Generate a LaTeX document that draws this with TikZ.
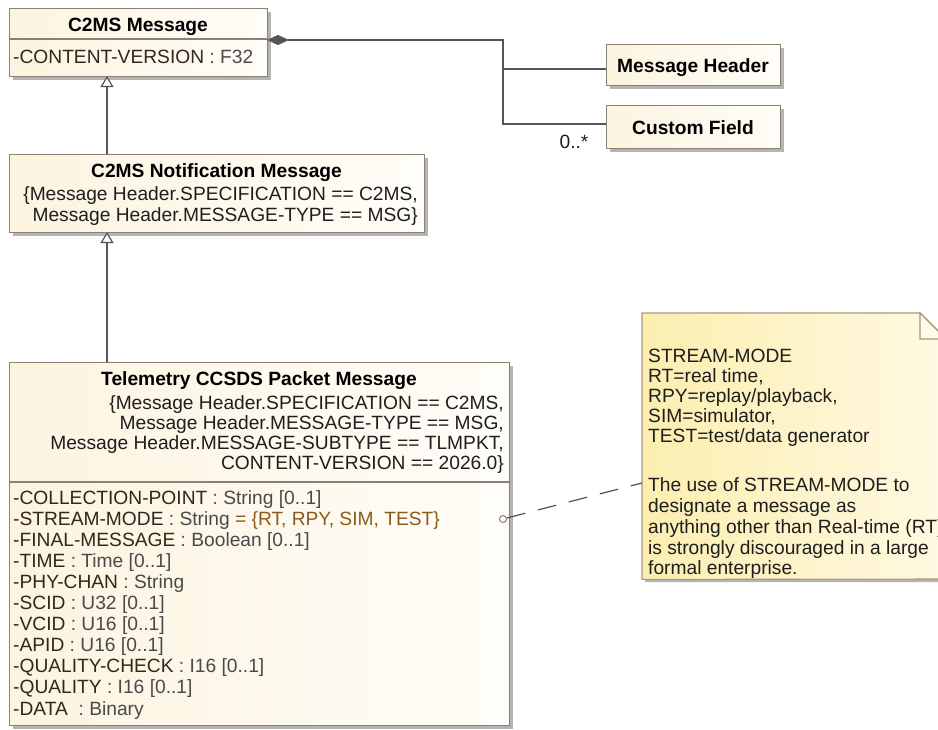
\documentclass[tikz,border=0pt]{standalone}
\usepackage{fontspec}
\setmainfont{Liberation Sans}
\usetikzlibrary{arrows.meta,shadows}
\definecolor{boxborder}{HTML}{8C7F73}
\definecolor{boxA}{HTML}{FCF4E0}
\definecolor{boxB}{HTML}{FFFDF8}
\definecolor{noteA}{HTML}{FCEEB0}
\definecolor{noteB}{HTML}{FFF9E2}
\definecolor{notefold}{HTML}{FFFBEA}
\definecolor{noteborder}{HTML}{A89A78}
\definecolor{shadowc}{HTML}{B4B4B4}
\definecolor{linec}{HTML}{555555}
\definecolor{namec}{HTML}{33261B}
\definecolor{typec}{HTML}{4A4A4A}
\definecolor{defc}{HTML}{8C5A1E}
\definecolor{txtc}{HTML}{1E1E1E}
\newcommand\attrname[1]{\textcolor{namec}{#1}}
\newcommand\attrtype[1]{\textcolor{typec}{#1}}
\newcommand\attrdef[1]{\textcolor{defc}{#1}}
\begin{document}
\begin{tikzpicture}[x=1pt,y=-1pt,
  every node/.style={font=\fontsize{19.2}{21}\selectfont, inner sep=0pt},
  umlbox/.style={draw=boxborder, line width=1.1pt, left color=boxA, right color=boxB,
    anchor=north west, inner sep=0pt,
    drop shadow={shadow xshift=3pt,shadow yshift=-3pt,fill=shadowc,opacity=1}},
  ttl/.style={anchor=base, font=\fontsize{19.2}{21}\selectfont\bfseries, text=black},
  ctxt/.style={anchor=base east, text=txtc},
  attr/.style={anchor=base west},
  ntxt/.style={anchor=base west, text=txtc},
  sepline/.style={draw=boxborder, line width=1.1pt},
  assoc/.style={draw=linec, line width=1.2pt},
  genline/.style={draw=linec, line width=1.2pt, -{Triangle[open,length=11pt,width=13pt,fill=white]}},
  dashline/.style={draw=linec, line width=1.2pt, dash pattern=on 19pt off 13pt}
]
\clip (0,0) rectangle (938,729);
\fill[white] (0,0) rectangle (938,729);

% ---- boxes
\node[umlbox, minimum width=258pt, minimum height=68pt] (c2ms) at (9,8) {};
\node[umlbox, minimum width=174pt, minimum height=41pt] (mh) at (606,44) {};
\node[umlbox, minimum width=174pt, minimum height=43pt] (cf) at (606,105) {};
\node[umlbox, minimum width=415pt, minimum height=78pt] (notif) at (9,154) {};
\node[umlbox, minimum width=500pt, minimum height=363pt] (tlm) at (9,362) {};

\draw[sepline] (9,39) -- (267,39);
\draw[sepline] (9,482) -- (509,482);

% ---- note
\node[minimum width=308pt, minimum height=266pt, anchor=north west] (note) at (642,313) {};
\fill[shadowc] (645,316) -- (923,316) -- (949,342) -- (949,582) -- (645,582) -- cycle;
\draw[draw=noteborder, line width=1.1pt, left color=noteA, right color=noteB]
  (note.north west) -- (920,313) -- (946,339) -- (946,579) -- (note.south west) -- cycle;
\draw[draw=noteborder, line width=1.1pt, fill=notefold] (920,313) -- (920,339) -- (946,339) -- cycle;

% ---- texts
\node[ttl] (t1) at (138,31) {C2MS Message};
\node[attr] (t2) at (13,63) {\attrname{-CONTENT-VERSION} \attrtype{: F32}};
\node[ttl] (t3) at (693,72) {Message Header};
\node[ttl] (t4) at (693,134) {Custom Field};
\node[text=txtc] (mult) at (574,142) {0..*};

\node[ttl] (t5) at (216.5,177) {C2MS Notification Message};
\node[ctxt] (t6) at (418,200) {\{Message Header.SPECIFICATION == C2MS,};
\node[ctxt] (t7) at (418,221) {Message Header.MESSAGE-TYPE == MSG\}};

\node[ttl] (t8) at (259,385) {Telemetry CCSDS Packet Message};
\node[ctxt] (t9) at (504,409) {\{Message Header.SPECIFICATION == C2MS,};
\node[ctxt] (t10) at (504,429) {Message Header.MESSAGE-TYPE == MSG,};
\node[ctxt] (t11) at (504,449) {Message Header.MESSAGE-SUBTYPE == TLMPKT,};
\node[ctxt] (t12) at (504,469) {CONTENT-VERSION == 2026.0\}};

\node[attr] (a1) at (13,504) {\attrname{-COLLECTION-POINT} \attrtype{: String [0..1]}};
\node[attr] (a2) at (13,525.1) {\attrname{-STREAM-MODE} \attrtype{: String} \attrdef{= \{RT, RPY, SIM, TEST\}}};
\node[attr] (a3) at (13,546.2) {\attrname{-FINAL-MESSAGE} \attrtype{: Boolean [0..1]}};
\node[attr] (a4) at (13,567.3) {\attrname{-TIME} \attrtype{: Time [0..1]}};
\node[attr] (a5) at (13,588.4) {\attrname{-PHY-CHAN} \attrtype{: String}};
\node[attr] (a6) at (13,609.5) {\attrname{-SCID} \attrtype{: U32 [0..1]}};
\node[attr] (a7) at (13,630.6) {\attrname{-VCID} \attrtype{: U16 [0..1]}};
\node[attr] (a8) at (13,651.7) {\attrname{-APID} \attrtype{: U16 [0..1]}};
\node[attr] (a9) at (13,672.8) {\attrname{-QUALITY-CHECK} \attrtype{: I16 [0..1]}};
\node[attr] (a10) at (13,693.9) {\attrname{-QUALITY} \attrtype{: I16 [0..1]}};
\node[attr] (a11) at (13,715) {\attrname{-DATA} \attrtype{\ : Binary}};

\node[ntxt] (n1) at (648,362) {STREAM-MODE};
\node[ntxt] (n2) at (648,382) {RT=real time,};
\node[ntxt] (n3) at (648,402) {RPY=replay/playback,};
\node[ntxt] (n4) at (648,422) {SIM=simulator,};
\node[ntxt] (n5) at (648,442) {TEST=test/data generator};
\node[ntxt] (n6) at (648,491) {The use of STREAM-MODE to};
\node[ntxt] (n7) at (648,512) {designate a message as};
\node[ntxt] (n8) at (648,533) {anything other than Real-time (RT)};
\node[ntxt] (n9) at (648,554) {is strongly discouraged in a large};
\node[ntxt] (n10) at (648,574) {formal enterprise.};

% ---- connectors
\coordinate (compstart) at (267,40);
\coordinate (jtop) at (503,40);
\coordinate (jmh) at (503,69);
\coordinate (mhin) at (606,69);
\coordinate (cfin) at (606,124);
\draw[assoc, {Diamond[length=22pt,width=10pt,fill=linec]}-] (compstart) -- (jtop) |- (cfin);
\draw[assoc] (jmh) -- (mhin);

\coordinate (g1a) at (107,154);
\coordinate (g1b) at (107,76);
\coordinate (g2a) at (107,362);
\coordinate (g2b) at (107,232);
\draw[genline] (g1a) -- (g1b);
\draw[genline] (g2a) -- (g2b);

\coordinate (notein) at (642,483);
\node[circle, draw=boxborder, line width=1pt, fill=white, minimum size=7pt] (anc) at (503,519) {};
\draw[dashline] (anc) -- (notein);
\end{tikzpicture}
\end{document}
